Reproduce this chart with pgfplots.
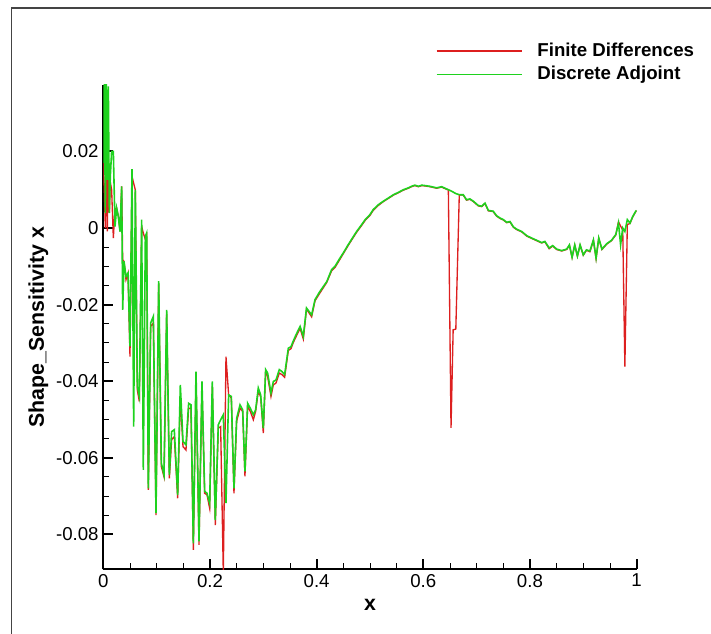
\documentclass[border=0pt]{standalone}
\usepackage{fontspec}
\setmainfont{Liberation Sans}
\usepackage{pgfplots}
\pgfplotsset{compat=1.18}
\usepackage{pgfplotstable}
\definecolor{fdRed}{HTML}{DD1F1F}
\definecolor{daGreen}{HTML}{1ED21E}
\definecolor{frameGray}{HTML}{444444}

% x, finite differences, discrete adjoint
\pgfplotstableread{
x      fd      da
0.0000 0.0170 0.0170
0.0019 0.0100 0.0380
0.0038 0.0000 0.0039
0.0056 0.0250 0.0383
0.0075 -0.0009 0.0126
0.0094 0.0180 0.0370
0.0113 0.0040 0.0039
0.0131 0.0120 0.0135
0.0156 0.0100 0.0200
0.0188 -0.0026 0.0200
0.0219 0.0050 0.0004
0.0250 0.0052 0.0052
0.0281 0.0031 0.0031
0.0313 -0.0009 -0.0009
0.0344 0.0109 0.0109
0.0363 -0.0083 -0.0214
0.0388 -0.0087 -0.0087
0.0425 -0.0135 -0.0126
0.0463 -0.0118 -0.0118
0.0500 -0.0336 -0.0309
0.0538 0.0135 0.0154
0.0569 0.0117 -0.0519
0.0600 0.0100 0.0100
0.0638 -0.0423 -0.0414
0.0675 -0.0453 -0.0440
0.0719 0.0004 0.0022
0.0750 -0.0013 -0.0632
0.0788 -0.0030 -0.0022
0.0813 -0.0020 -0.0013
0.0844 -0.0684 -0.0680
0.0888 -0.0257 -0.0248
0.0938 -0.0248 -0.0231
0.0988 -0.0750 -0.0745
0.1038 -0.0145 -0.0139
0.1088 -0.0623 -0.0614
0.1138 -0.0650 -0.0645
0.1188 -0.0225 -0.0214
0.1238 -0.0654 -0.0645
0.1281 -0.0553 -0.0532
0.1331 -0.0545 -0.0527
0.1394 -0.0706 -0.0697
0.1444 -0.0440 -0.0410
0.1494 -0.0571 -0.0558
0.1550 -0.0580 -0.0566
0.1600 -0.0471 -0.0458
0.1644 -0.0471 -0.0462
0.1688 -0.0841 -0.0824
0.1738 -0.0388 -0.0375
0.1794 -0.0828 -0.0819
0.1850 -0.0414 -0.0401
0.1900 -0.0693 -0.0688
0.1944 -0.0697 -0.0693
0.1994 -0.0732 -0.0719
0.2044 -0.0414 -0.0401
0.2100 -0.0776 -0.0763
0.2156 -0.0523 -0.0514
0.2200 -0.0519 -0.0501
0.2250 -0.0902 -0.0488
0.2300 -0.0336 -0.0719
0.2350 -0.0436 -0.0436
0.2400 -0.0444 -0.0440
0.2450 -0.0693 -0.0680
0.2500 -0.0505 -0.0497
0.2563 -0.0471 -0.0462
0.2613 -0.0479 -0.0475
0.2656 -0.0649 -0.0636
0.2706 -0.0466 -0.0458
0.2756 -0.0479 -0.0471
0.2813 -0.0501 -0.0488
0.2856 -0.0479 -0.0475
0.2906 -0.0427 -0.0418
0.2950 -0.0440 -0.0436
0.3000 -0.0536 -0.0523
0.3044 -0.0375 -0.0370
0.3081 -0.0388 -0.0379
0.3144 -0.0440 -0.0431
0.3188 -0.0410 -0.0401
0.3238 -0.0405 -0.0397
0.3300 -0.0379 -0.0370
0.3350 -0.0383 -0.0375
0.3400 -0.0390 -0.0383
0.3469 -0.0320 -0.0314
0.3520 -0.0315 -0.0310
0.3560 -0.0300 -0.0296
0.3610 -0.0285 -0.0280
0.3690 -0.0262 -0.0257
0.3750 -0.0290 -0.0283
0.3810 -0.0212 -0.0209
0.3906 -0.0232 -0.0227
0.3970 -0.0190 -0.0187
0.4060 -0.0170 -0.0166
0.4125 -0.0156 -0.0153
0.4190 -0.0142 -0.0140
0.4280 -0.0112 -0.0109
0.4345 -0.0103 -0.0100
0.4440 -0.0081 -0.0078
0.4500 -0.0067 -0.0065
0.4590 -0.0046 -0.0044
0.4690 -0.0024 -0.0022
0.4750 -0.0011 -0.0009
0.4845 0.0007 0.0009
0.4910 0.0020 0.0022
0.5000 0.0033 0.0035
0.5060 0.0046 0.0048
0.5157 0.0059 0.0061
0.5250 0.0069 0.0070
0.5340 0.0077 0.0078
0.5440 0.0086 0.0087
0.5530 0.0092 0.0093
0.5625 0.0099 0.0100
0.5720 0.0104 0.0105
0.5780 0.0108 0.0109
0.5840 0.0111 0.0112
0.5910 0.0108 0.0109
0.5970 0.0111 0.0112
0.6030 0.0110 0.0111
0.6125 0.0108 0.0109
0.6250 0.0104 0.0105
0.6345 0.0107 0.0108
0.6440 0.0101 0.0102
0.6470 0.0100 0.0100
0.6520 -0.0522 0.0097
0.6560 -0.0266 0.0094
0.6610 -0.0264 0.0090
0.6675 0.0087 0.0087
0.6750 0.0086 0.0087
0.6810 0.0073 0.0074
0.6875 0.0075 0.0076
0.6940 0.0069 0.0070
0.7030 0.0058 0.0059
0.7095 0.0056 0.0057
0.7157 0.0064 0.0065
0.7220 0.0045 0.0046
0.7310 0.0043 0.0044
0.7375 0.0031 0.0032
0.7440 0.0025 0.0026
0.7500 0.0021 0.0022
0.7565 0.0014 0.0015
0.7625 0.0016 0.0017
0.7690 0.0002 0.0003
0.7750 -0.0004 -0.0003
0.7845 -0.0010 -0.0009
0.7940 -0.0021 -0.0020
0.8030 -0.0027 -0.0026
0.8125 -0.0033 -0.0032
0.8220 -0.0039 -0.0038
0.8280 -0.0036 -0.0035
0.8360 -0.0054 -0.0052
0.8427 -0.0047 -0.0046
0.8500 -0.0056 -0.0055
0.8595 -0.0060 -0.0059
0.8690 -0.0056 -0.0055
0.8740 -0.0045 -0.0044
0.8790 -0.0077 -0.0076
0.8840 -0.0045 -0.0044
0.8890 -0.0074 -0.0073
0.8940 -0.0045 -0.0044
0.9000 -0.0071 -0.0070
0.9060 -0.0058 -0.0057
0.9125 -0.0062 -0.0060
0.9190 -0.0032 -0.0031
0.9240 -0.0080 -0.0078
0.9290 -0.0027 -0.0026
0.9350 -0.0056 -0.0055
0.9440 -0.0042 -0.0041
0.9530 -0.0033 -0.0032
0.9610 -0.0018 -0.0017
0.9660 0.0016 0.0013
0.9700 0.0005 -0.0044
0.9740 -0.0005 0.0000
0.9780 -0.0362 -0.0009
0.9826 0.0009 0.0022
0.9876 0.0012 0.0013
0.9927 0.0029 0.0030
0.9980 0.0042 0.0043
1.0000 0.0045 0.0046
}\sens

\begin{document}
\begin{tikzpicture}
  \begin{axis}[
    scale only axis,
    width=400pt, height=363.4pt,
    xmin=0, xmax=1,
    ymin=-0.0892, ymax=0.0374,
    scaled x ticks=false, scaled y ticks=false,
    axis x line*=bottom, axis y line*=left,
    axis line style={line width=1.5pt},
    tick align=inside,
    xtick={0,0.2,0.4,0.6,0.8,1},
    xticklabels={0,0.2,0.4,0.6,0.8,1},
    ytick={-0.08,-0.06,-0.04,-0.02,0,0.02},
    yticklabels={-0.08,-0.06,-0.04,-0.02,0,0.02},
    minor x tick num=3, minor y tick num=3,
    major tick length=7.5pt, minor tick length=4.5pt,
    major tick style={line width=1.5pt, black},
    minor tick style={line width=0.6pt, black},
    tick label style={font=\fontsize{14}{16}\selectfont},
    /pgf/number format/assume math mode=true,
    xlabel={x}, ylabel={Shape\_Sensitivity x},
    xlabel style={font=\bfseries\fontsize{16}{18}\selectfont,
      at={(axis description cs:0.5,-0.073)}, anchor=center},
    ylabel style={font=\bfseries\fontsize{16}{18}\selectfont,
      at={(axis description cs:-0.122,0.5)}, anchor=center},
    legend cell align=left,
    legend image code/.code={\draw[#1] (0pt,0pt) -- (64pt,0pt);},
    legend style={at={(0.6230,1.089)}, anchor=north west,
      draw=none, fill=none, inner sep=0pt,
      font=\bfseries\fontsize{14}{16}\selectfont,
      column sep=11pt, row sep=4pt,
      nodes={inner sep=0pt, text height=10.5pt, text depth=3pt}},
  ]
    \addplot[fdRed, line width=1pt] table[x=x, y=fd] {\sens};
    \addlegendentry{Finite Differences}
    \addplot[daGreen, line width=1.2pt] table[x=x, y=da] {\sens};
    \addlegendentry{Discrete Adjoint}
  \end{axis}
  % partial frame of the original figure
  \draw[frameGray, line width=0.8pt] (-69.2pt,-48.4pt) -- (-69.2pt,421.1pt) -- (455.8pt,421.1pt);
  \pgfresetboundingbox
  \path[use as bounding box] (-77.5pt,-48.4pt) rectangle (455.8pt,427.1pt);
\end{tikzpicture}
\end{document}
